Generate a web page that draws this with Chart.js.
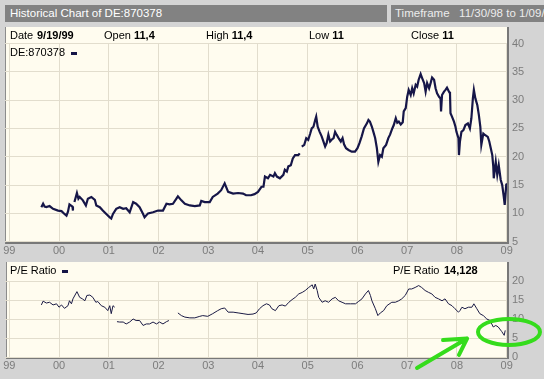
<!DOCTYPE html>
<html><head><meta charset="utf-8">
<script src="https://cdn.jsdelivr.net/npm/chart.js@4.4.1/dist/chart.umd.min.js"></script>
<style>
html,body{margin:0;padding:0}
body{width:544px;height:379px;overflow:hidden;position:relative;background:#d4d4d4;font-family:"Liberation Sans",Arial,sans-serif;font-size:11px;color:#000}
.bar{position:absolute;top:5px;height:17px;background:#828282;line-height:17px;white-space:nowrap;overflow:hidden;box-sizing:border-box;font-size:11.5px}
#bar1{left:5px;width:382px;color:#fff;padding-left:5px}
#bar2{left:391px;width:160px;color:#ececec;padding-left:4px}
.panel{position:absolute;background:#fffcef;box-sizing:border-box;border-left:1px solid #8c8c8c;border-right:2px solid #787878;border-bottom:2px solid #787878}
#p1{left:5px;top:27px;width:504px;height:217px}
#p2{left:6px;top:262px;width:503px;height:97px}
canvas{position:absolute;left:0}
#c1{top:0}
#c2{top:255px}
.t{position:absolute;white-space:nowrap;line-height:12px;z-index:5}
.t b{font-weight:bold}
.sq{display:inline-block;width:6px;height:3px;background:#141446;vertical-align:middle;margin-left:6px}
</style></head>
<body>
<div class="bar" id="bar1">Historical Chart of DE:870378</div>
<div class="bar" id="bar2">Timeframe&nbsp;&nbsp; 11/30/98 to 1/09/09</div>
<div class="panel" id="p1"></div>
<div class="panel" id="p2"></div>
<canvas id="c1" width="544" height="256"></canvas>
<canvas id="c2" width="544" height="124"></canvas>
<div class="t" style="left:10px;top:29px">Date</div><div class="t" style="left:37px;top:29px"><b>9/19/99</b></div>
<div class="t" style="left:104px;top:29px">Open <b>11,4</b></div>
<div class="t" style="left:206px;top:29px">High <b>11,4</b></div>
<div class="t" style="left:309px;top:29px">Low <b>11</b></div>
<div class="t" style="left:411px;top:29px">Close <b>11</b></div>
<div class="t" style="left:10px;top:46px">DE:870378<span class="sq"></span></div>
<div class="t" style="left:10px;top:264px">P/E Ratio<span class="sq"></span></div>
<div class="t" style="left:393px;top:264px">P/E Ratio</div>
<div class="t" style="left:444px;top:264px"><b>14,128</b></div>
<script>
// ---- data ----
const yearTicks = [1999,2000,2001,2002,2003,2004,2005,2006,2007,2008,2009];
const yearLabels = ['99','00','01','02','03','04','05','06','07','08','09'];
const priceTicks = [5,10,15,20,25,30,35,40];
const peTicks = [0,5,10,15,20];

const priceYears = [1999.645,1999.68,1999.71,1999.745,1999.81,1999.88,1999.98,2000.05,2000.11,2000.15,2000.18,2000.21,2000.27,2000.28,2000.295,
2000.31,2000.36,2000.39,2000.415,2000.48,2000.54,2000.58,2000.65,2000.72,2000.75,2000.82,2000.88,2000.95,2001.02,2001.05,2001.085,2001.15,2001.22,2001.29,2001.35,2001.42,2001.49,2001.55,2001.62,2001.69,2001.72,2001.79,2001.89,2001.99,2002.09,2002.16,2002.22,2002.29,2002.36,2002.39,2002.46,2002.53,2002.63,2002.73,2002.83,2002.86,2002.93,2003.03,2003.09,2003.19,2003.26,2003.33,2003.40,2003.50,2003.60,2003.70,2003.76,2003.86,2003.93,2004.00,2004.07,2004.11,2004.14,2004.20,
2004.243,2004.31,2004.34,2004.38,2004.44,2004.51,2004.54,2004.58,2004.61,2004.66,2004.70,2004.745,2004.81,2004.84,
2004.86,2004.88,2004.93,2004.97,2005.01,2005.05,2005.08,2005.115,2005.15,2005.17,2005.20,2005.24,2005.28,2005.315,2005.35,2005.38,2005.415,2005.45,2005.48,2005.52,2005.55,2005.58,2005.62,2005.665,2005.70,2005.73,2005.77,2005.82,2005.885,2005.95,2006.00,2006.04,2006.085,2006.13,2006.19,2006.22,2006.25,2006.29,2006.32,2006.355,2006.39,2006.42,2006.455,2006.49,2006.52,2006.575,2006.62,2006.655,
2006.70,2006.73,2006.77,2006.80,2006.83,2006.87,2006.91,2006.93,2006.97,2007.00,2007.03,2007.07,2007.10,2007.13,2007.17,2007.20,2007.23,2007.27,2007.30,2007.34,2007.37,2007.40,2007.44,2007.47,2007.50,2007.54,2007.57,2007.60,2007.64,2007.67,2007.68,2007.70,2007.74,2007.77,2007.80,2007.84,2007.86,2007.87,2007.90,2007.94,2007.97,2007.99,2008.03,2008.04,2008.06,2008.09,2008.13,2008.17,2008.22,2008.26,2008.29,2008.32,2008.34,2008.37,2008.41,2008.44,2008.47,2008.49,2008.53,2008.57,2008.62,2008.65,2008.68,2008.71,2008.73,2008.74,2008.78,2008.81,2008.84,2008.88,2008.91,2008.94,2008.96,2008.99,2009.00];
const priceValues = [11.1,11.7,11.2,11.1,11.3,10.8,10.5,10.4,9.9,9.6,10.3,11.6,11.2,10.5,null,
12.0,13.6,12.6,12.9,12.3,11.4,12.6,12.9,12.4,11.4,11.1,10.5,9.9,9.3,9.1,9.9,10.8,11.1,10.8,10.9,10.2,12.0,11.7,11.1,9.9,9.3,10.0,10.2,10.5,10.5,11.7,11.6,11.7,12.6,13.0,12.3,11.7,11.4,11.3,11.4,12.2,12.0,12.0,12.9,13.5,14.1,15.3,13.8,13.5,13.6,13.5,13.2,13.2,13.4,13.8,14.7,14.7,16.5,16.2,
16.8,16.5,17.1,16.5,16.2,16.8,17.7,17.4,18.3,18.5,19.7,20.3,20.3,20.6,
null,21.8,22.1,23.3,23.0,24.1,25.0,25.3,26.5,27.1,25.3,24.4,23.6,22.7,21.8,22.4,23.9,22.7,23.0,23.3,24.4,23.9,23.3,22.7,23.3,22.2,21.5,21.2,20.9,20.9,21.5,22.4,23.6,25.0,25.9,26.5,26.2,25.3,24.4,23.3,21.5,19.1,20.3,20.0,21.5,22.1,23.3,23.9,
25.0,25.6,26.8,26.0,26.2,25.7,26.1,28.0,28.6,30.6,31.8,30.9,32.1,31.2,32.7,32.4,33.6,34.6,33.9,33.0,31.5,33.0,32.1,33.0,34.0,33.6,32.1,31.2,30.6,30.3,28.0,30.9,31.5,31.8,32.2,31.5,31.2,27.7,27.1,26.2,25.3,24.4,23.3,20.3,22.7,24.4,24.7,25.6,25.9,25.0,26.8,30.3,31.8,30.3,29.1,27.4,25.3,22.1,24.1,23.8,23.5,22.7,21.5,20.3,18.3,16.2,19.1,16.8,18.5,15.9,15.0,13.0,11.5,15.0,15.3];

const peYears = [1999.645,1999.68,1999.745,1999.81,1999.88,1999.95,2000.00,2000.05,2000.11,2000.18,2000.21,2000.25,2000.28,2000.36,2000.415,2000.47,2000.52,2000.56,2000.62,2000.68,2000.74,2000.78,2000.85,2000.92,2000.98,2001.02,2001.05,2001.085,2001.12,2001.14,
2001.165,2001.22,2001.29,2001.35,2001.42,2001.49,2001.55,2001.62,2001.69,2001.755,2001.82,2001.89,2001.96,2002.02,2002.09,2002.16,2002.21,2002.30,
2002.39,2002.46,2002.53,2002.63,2002.73,2002.83,2002.89,2002.99,2003.09,2003.19,2003.26,2003.33,2003.40,2003.50,2003.60,2003.70,2003.80,2003.90,2003.965,2004.03,2004.10,2004.17,2004.23,
2004.28,2004.35,2004.42,2004.485,2004.55,2004.62,2004.685,2004.75,2004.82,2004.89,2004.95,2005.02,2005.09,2005.12,2005.15,2005.19,2005.22,2005.29,2005.35,2005.42,2005.49,2005.555,2005.62,2005.69,2005.76,2005.86,2005.96,2006.02,2006.09,2006.16,2006.22,2006.26,2006.29,2006.36,2006.41,2006.46,2006.525,2006.59,2006.69,2006.76,2006.83,2006.89,2006.96,2007.03,2007.09,2007.16,2007.23,2007.29,2007.36,2007.43,2007.495,2007.56,2007.63,2007.70,2007.76,2007.83,2007.90,2007.96,2008.03,2008.06,2008.10,2008.16,2008.23,2008.30,2008.34,2008.40,2008.46,2008.53,2008.60,2008.665,2008.73,2008.78,2008.83,2008.90,2008.95,2008.97];
const peValues = [13.7,14.7,14.2,14.4,13.7,14.0,13.1,13.7,12.8,13.5,14.8,14.0,15.3,17.2,15.7,15.3,14.8,16.2,16.3,15.7,14.4,14.6,13.5,13.1,12.2,13.5,11.4,13.5,13.1,null,
9.3,9.2,9.2,8.7,9.2,10.0,9.6,9.6,8.3,8.7,8.7,9.2,8.7,9.2,8.7,9.3,9.6,null,
11.6,10.9,10.5,10.3,10.3,10.7,10.9,10.7,11.4,12.2,12.7,12.9,11.8,11.8,11.6,11.4,11.2,11.3,11.6,12.7,13.5,14.0,13.7,
12.7,12.2,13.5,13.7,13.4,14.4,15.1,15.7,16.6,17.0,17.5,18.3,19.0,17.9,19.2,17.5,15.7,14.4,14.8,14.4,15.3,15.7,14.8,14.4,14.0,14.0,14.0,14.6,15.3,16.6,17.5,16.2,14.8,12.7,10.9,11.6,12.2,13.5,14.4,14.4,14.8,15.3,16.2,17.9,17.9,18.3,18.8,18.3,17.5,17.0,16.6,15.7,15.3,14.8,15.3,14.0,13.5,12.7,11.8,12.2,13.1,12.7,13.1,13.1,14.0,12.7,11.4,10.9,10.0,9.6,7.9,8.3,7.9,6.7,5.7,7.0];

// ---- helpers ----
const X_MIN = 1998.914, X_MAX = 2009.006;
const pts = (xs, ys) => xs.map((x, i) => ({x: x, y: ys[i]}));
const tickFont = {family: '"Liberation Sans", Arial, sans-serif', size: 11};
const tickColor = '#7c7c7c';
const gridColor = '#e2ddcd';

function xScale(h, pad) {
  return {
    type: 'linear', min: X_MIN, max: X_MAX,
    afterBuildTicks: s => { s.ticks = yearTicks.map(v => ({value: v})); },
    afterFit: s => { s.height = h; },
    ticks: {font: tickFont, color: tickColor, padding: pad, maxRotation: 0, autoSkip: false,
      callback: (v) => { const i = yearTicks.indexOf(v); return i >= 0 ? yearLabels[i] : ''; }},
    grid: {color: gridColor, drawTicks: false, lineWidth: 1},
    border: {display: false}
  };
}
function yScale(min, max, ticksArr) {
  return {
    type: 'linear', position: 'right', min: min, max: max,
    afterBuildTicks: s => { s.ticks = ticksArr.map(v => ({value: v})); },
    afterFit: s => { s.width = 37; },
    ticks: {font: tickFont, color: tickColor, padding: 5, autoSkip: false, callback: v => String(v)},
    grid: {color: gridColor, drawTicks: false, lineWidth: 1},
    border: {display: false}
  };
}

const common = {
  responsive: false, animation: false,
  plugins: {legend: {display: false}, tooltip: {enabled: false}, title: {display: false}},
  elements: {point: {radius: 0}, line: {tension: 0}},
};

new Chart(document.getElementById('c1'), {
  type: 'line',
  data: {datasets: [{data: pts(priceYears, priceValues), borderColor: '#161648', borderWidth: 2.2, spanGaps: false, fill: false}]},
  options: Object.assign({}, common, {
    layout: {padding: {top: 43.5, left: 5, right: 0, bottom: 0}},
    scales: {x: xScale(14.3, 3), y: yScale(5, 40, priceTicks)}
  })
});

const annot = {
  id: 'annot',
  afterDraw(chart) {
    const c = chart.ctx, xs = chart.scales.x, ys = chart.scales.y;
    const px = v => xs.getPixelForValue(v), py = v => ys.getPixelForValue(v);
    c.save();
    c.strokeStyle = '#35dc1c'; c.lineWidth = 4; c.lineCap = 'round'; c.lineJoin = 'round';
    c.beginPath();
    c.ellipse(px(2009.046), py(6.6), 31, 13, 0, 0, Math.PI * 2);
    c.stroke();
    c.beginPath();
    c.moveTo(px(2007.197), py(-2.9)); c.lineTo(px(2008.203), py(4.87));
    c.moveTo(px(2007.72), py(4.47)); c.lineTo(px(2008.203), py(4.87)); c.lineTo(px(2008.04), py(0.53));
    c.stroke();
    c.restore();
  }
};

new Chart(document.getElementById('c2'), {
  type: 'line',
  data: {datasets: [{data: pts(peYears, peValues), borderColor: '#1a1a44', borderWidth: 1, spanGaps: false, fill: false}]},
  options: Object.assign({}, common, {
    layout: {padding: {top: 26, left: 5, right: 0, bottom: 0}},
    scales: {x: xScale(22, 2), y: yScale(0, 20, peTicks)}
  }),
  plugins: [annot]
});
</script>
</body></html>
